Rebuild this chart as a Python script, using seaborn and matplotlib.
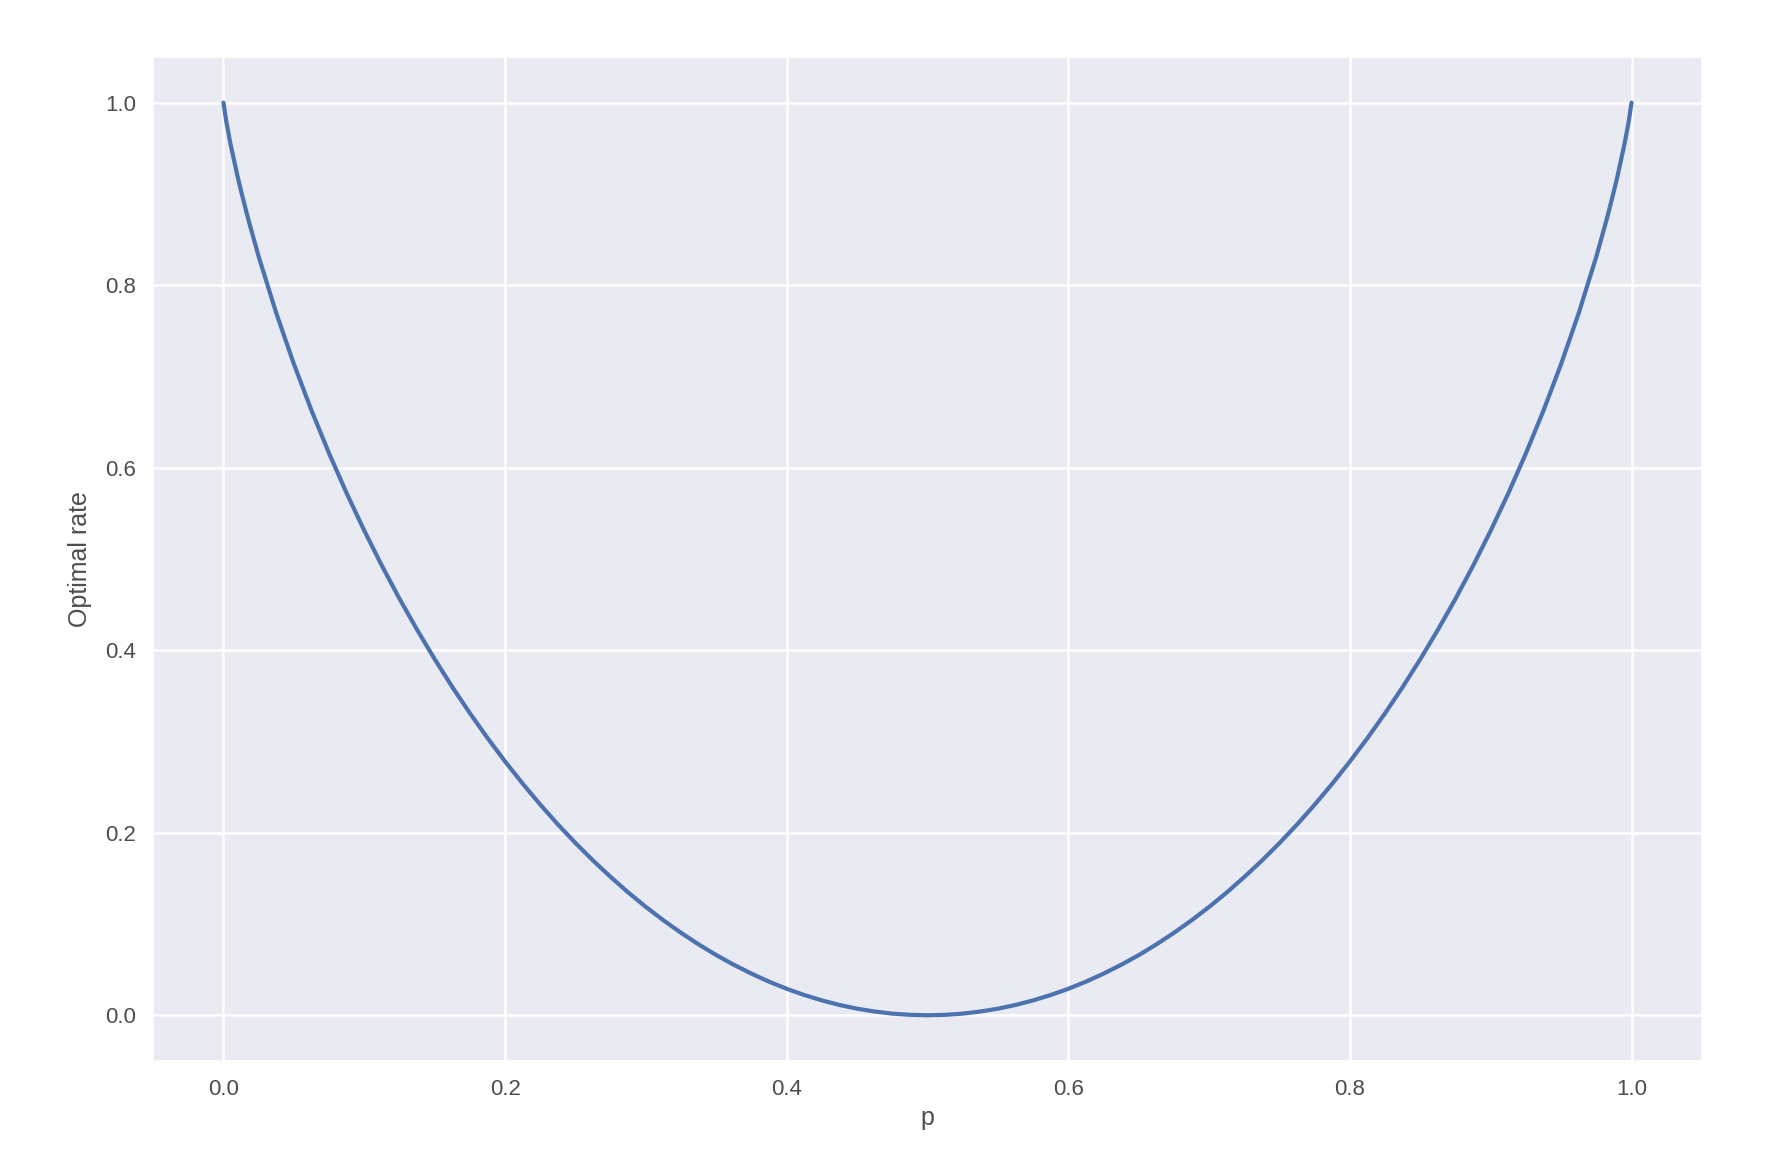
import matplotlib
matplotlib.use("Agg")
import matplotlib.pyplot as plt
import seaborn as sns
import pandas as pd

# p values and optimal rate (left half, p <= 0.5)
p_left = [0.0, 0.002, 0.005, 0.01, 0.0125, 0.0175, 0.025, 0.0375, 0.05, 0.0625,
          0.075, 0.0875, 0.1, 0.1125, 0.125, 0.1375, 0.15, 0.1625, 0.175, 0.1875,
          0.2, 0.2125, 0.225, 0.2375, 0.25, 0.2625, 0.275, 0.2875, 0.3, 0.3125,
          0.325, 0.3375, 0.35, 0.3625, 0.375, 0.3875, 0.4, 0.4125, 0.425, 0.4375,
          0.45, 0.4625, 0.475, 0.4875, 0.5]
rate_left = [1.0, 0.9792, 0.9546, 0.9192, 0.9031, 0.8728, 0.8313, 0.7693, 0.7136, 0.6627,
             0.6157, 0.5719, 0.531, 0.4926, 0.4564, 0.4224, 0.3902, 0.3597, 0.331, 0.3038,
             0.2781, 0.2538, 0.2308, 0.2091, 0.1887, 0.1695, 0.1515, 0.1345, 0.1187, 0.104,
             0.0903, 0.0776, 0.0659, 0.0553, 0.0456, 0.0368, 0.029, 0.0222, 0.0163, 0.0113,
             0.0072, 0.0041, 0.0018, 0.0005, 0.0]

# curve is symmetric around p = 0.5
p_vals = p_left + [round(1 - p, 4) for p in reversed(p_left[:-1])]
rate_vals = rate_left + list(reversed(rate_left[:-1]))

df = pd.DataFrame({"p": p_vals, "Optimal rate": rate_vals})

sns.set_theme(style="darkgrid")
plt.rcParams["font.family"] = ["Liberation Sans", "DejaVu Sans"]
plt.rcParams["grid.linewidth"] = 1.8

fig, ax = plt.subplots(figsize=(17.84, 11.62), dpi=100)
fig.subplots_adjust(left=0.0858, right=0.954, top=0.951, bottom=0.087)

sns.lineplot(data=df, x="p", y="Optimal rate", ax=ax, color="#4C72B0",
             linewidth=3.0, sort=False)

ax.set_xticks([0.0, 0.2, 0.4, 0.6, 0.8, 1.0])
ax.set_yticks([0.0, 0.2, 0.4, 0.6, 0.8, 1.0])
ax.tick_params(axis="x", labelsize=16, pad=7, colors=".3")
ax.tick_params(axis="y", labelsize=16, pad=6, colors=".3")
ax.set_xlabel("p", fontsize=18, color=".3", labelpad=4)
ax.set_ylabel("Optimal rate", fontsize=18, color=".3", labelpad=10)

plt.savefig("out.png", dpi=100)
